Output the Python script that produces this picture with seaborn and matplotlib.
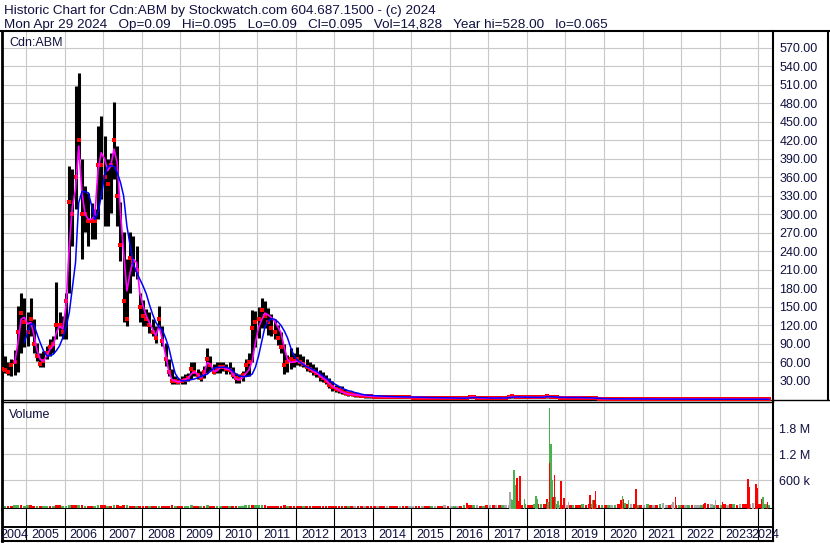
import matplotlib
matplotlib.use("Agg")
import matplotlib.pyplot as plt
import matplotlib.dates as mdates
from matplotlib.lines import Line2D
from matplotlib.ticker import FormatStrFormatter
import numpy as np
import pandas as pd
import seaborn as sns

nan = np.nan

# ---- monthly price bars, May 2004 .. Apr 2024 ----
price_high = [
    92, 70, 60, 65, 80, 152, 173, 165,
    141, 165, 130, 92, 76, 78, 87, 98, 103, 190, 141, 135,
    173, 379, 373, 508, 529, 390, 346, 335, 319, 308, 444, 460,
    427, 390, 400, 482, 411, 320, 271, 227, 271, 265, 249, 173,
    162, 146, 141, 130, 119, 152, 119, 92, 65, 49, 38, 35,
    38, 41, 43, 60, 60, 49, 46, 54, 84, 70, 57, 60,
    60, 60, 57, 60, 52, 43, 41, 46, 65, 76, 145, 143,
    150, 165, 160, 148, 138, 130, 120, 110, 90, 72, 84, 75,
    85, 73, 70, 65, 60, 57, 52, 48, 44, 40, 34, 30,
    24, 22, 21, 17, 14, 12, 11, 10, 9, 9, 8, 7,
    6.5, 6, 6, 5.5, 5.5, 5, 5, 5, 4.5, 4.5, 4.5, 4,
    4, 4, 4, 3.8, 3.6, 3.5, 3.5, 3.4, 3.2, 3, 3, 3,
    3, 3, 3, 3, 3, 3.5, 5.5, 6, 4, 3.5, 3.5, 3.5,
    3.5, 3.5, 3.5, 3.5, 3.5, 4, 5, 7.5, 6, 5, 5, 5.5,
    5, 5, 4.5, 4.5, 5, 6, 7, 6.5, 5.5, 5, 4.5, 4.5,
    4.5, 4.5, 4.5, 4.5, 4, 4, 4, 3.5, 3.5, 3, 2.5, 2,
    1.3, 1.2, 1.1, 1.1, 1.1, 1.1, 1.1, 1.1, 1, 1, 1, 1,
    0.8, 0.8, 0.8, 0.7, 0.7, 0.7, 0.7, 0.7, 0.7, 0.6, 0.6, 0.55,
    0.55, 0.55, 0.5, 0.5, 0.45, 0.45, 0.45, 0.45, 0.4, 0.4, 0.4, 0.3,
    0.3, 0.3, 0.3, 0.28, 0.28, 0.25, 0.25, 0.25, 0.2, 0.2, 0.15, 0.15,
    0.14, 0.13, 0.12, 0.11,
]
price_low = [
    35, 42, 40, 38, 40, 45, 76, 85,
    87, 103, 76, 62, 52, 52, 65, 70, 76, 98, 103, 98,
    98, 173, 249, 308, 390, 227, 271, 249, 260, 260, 292, 325,
    282, 282, 303, 357, 282, 225, 125, 119, 173, 200, 195, 125,
    119, 119, 108, 103, 92, 114, 87, 54, 38, 25, 25, 25,
    25, 25, 30, 33, 38, 33, 30, 35, 43, 46, 41, 43,
    43, 46, 41, 41, 35, 27, 27, 30, 38, 38, 60, 85,
    100, 115, 115, 105, 103, 98, 88, 75, 41, 44, 50, 52,
    55, 54, 52, 46, 44, 40, 36, 30, 28, 25, 18, 14,
    12, 10, 8, 7, 6, 5, 4, 4, 4, 3, 3, 3,
    3, 3, 2.8, 2.8, 2.5, 2.5, 2.5, 2.5, 2.2, 2.2, 2.2, 2,
    2, 2, 2, 1.8, 1.8, 1.6, 1.6, 1.5, 1.5, 1.4, 1.4, 1.4,
    1.4, 1.4, 1.4, 1.4, 1.4, 1.5, 2, 2.5, 2, 1.6, 1.6, 1.6,
    1.6, 1.6, 1.6, 1.6, 1.6, 1.8, 2, 2.5, 2.5, 2.2, 2.2, 2.5,
    2.5, 2.5, 2.2, 2.2, 2.5, 3, 3, 2.8, 2.5, 2.2, 2.2, 2,
    2, 2, 2, 2, 2, 1.8, 1.8, 1.6, 1.4, 1.2, 1, 0.8,
    0.7, 0.6, 0.5, 0.5, 0.5, 0.5, 0.5, 0.5, 0.5, 0.5, 0.5, 0.5,
    0.4, 0.4, 0.4, 0.35, 0.35, 0.35, 0.35, 0.35, 0.35, 0.3, 0.3, 0.3,
    0.3, 0.3, 0.25, 0.25, 0.2, 0.2, 0.2, 0.2, 0.18, 0.18, 0.18, 0.15,
    0.15, 0.15, 0.15, 0.13, 0.13, 0.1, 0.1, 0.1, 0.09, 0.09, 0.08, 0.08,
    0.08, 0.07, 0.065, 0.07,
]
price_close = [
    50, 48, 45, 55, 60, 110, 140, 125,
    110, 130, 90, 70, 58, 62, 75, 85, 90, 120, 120, 110,
    160, 320, 300, 360, 420, 300, 300, 290, 290, 290, 380, 380,
    360, 350, 380, 420, 330, 250, 160, 130, 230, 225, 210, 150,
    135, 130, 120, 110, 100, 130, 95, 65, 45, 30, 30, 28,
    30, 32, 35, 50, 45, 40, 35, 45, 65, 55, 45, 50,
    52, 52, 50, 48, 40, 35, 33, 40, 55, 60, 115, 125,
    130, 145, 135, 125, 115, 110, 100, 85, 55, 60, 65, 62,
    65, 60, 57, 52, 50, 46, 42, 38, 34, 30, 24, 20,
    17, 15, 13, 10, 9, 8, 7, 7, 6, 6, 5, 5,
    4.5, 4.5, 4.2, 4, 4, 3.8, 3.8, 3.6, 3.5, 3.4, 3.3, 3.2,
    3, 3, 3, 2.8, 2.6, 2.5, 2.4, 2.3, 2.2, 2, 2, 2,
    2, 2, 2, 2, 2, 2.5, 4, 3.5, 2.8, 2.2, 2.2, 2.2,
    2.2, 2.2, 2.2, 2.2, 2.2, 2.6, 3.5, 5, 4, 3.5, 3.5, 4,
    3.5, 3.5, 3.2, 3.2, 3.6, 4.5, 5, 4.2, 3.6, 3.2, 3, 3,
    3, 3, 3, 3, 2.8, 2.6, 2.6, 2.3, 2, 1.7, 1.4, 1.1,
    1, 0.9, 0.8, 0.8, 0.8, 0.8, 0.8, 0.8, 0.7, 0.7, 0.7, 0.7,
    0.6, 0.6, 0.6, 0.5, 0.5, 0.5, 0.5, 0.5, 0.5, 0.45, 0.45, 0.4,
    0.4, 0.4, 0.35, 0.35, 0.3, 0.3, 0.3, 0.3, 0.25, 0.25, 0.25, 0.2,
    0.2, 0.2, 0.2, 0.18, 0.18, 0.15, 0.15, 0.15, 0.12, 0.12, 0.1, 0.1,
    0.1, 0.1, 0.09, 0.095,
]
# magenta (short) and blue (long) moving averages as drawn on the chart
ma_fast = [
    nan, nan, nan, nan, 59, 90, 130, 133,
    122, 125, 106, 80, 65, 62, 70, 81, 87, 108, 119, 114,
    152, 249, 311, 341, 411, 335, 300, 292, 292, 298, 373, 400,
    390, 371, 379, 406, 384, 303, 238, 176, 206, 227, 222, 173,
    152, 135, 125, 114, 103, 119, 98, 73, 46, 32, 30, 28,
    30, 32, 34, 41, 45, 41, 35, 41, 60, 57, 46, 46,
    52, 52, 49, 49, 41, 33, 32, 35, 42, 48, 62, 92,
    117, 130, 140, 137, 133, 127, 118, 108, 84, 65, 60, 61,
    62, 60, 58, 53, 50, 46, 43, 39, 35, 31, 26, 21,
    18, 15, 12, 10, 8.5, 8, 7.5, 7, 6.5, 6, 5.5, 5,
    4.8, 4.6, 4.4, 4.2, 4.1, 4, 3.9, 3.8, 3.6, 3.5, 3.4, 3.3,
    3.2, 3.1, 3, 2.9, 2.7, 2.6, 2.5, 2.4, 2.3, 2.1, 2, 2,
    2, 2, 2, 2, 2, 2.3, 3.4, 3.6, 3, 2.4, 2.2, 2.2,
    2.2, 2.2, 2.2, 2.2, 2.2, 2.4, 3.2, 4.5, 4.2, 3.7, 3.5, 3.8,
    3.6, 3.5, 3.3, 3.2, 3.5, 4.2, 4.8, 4.4, 3.8, 3.3, 3.1, 3,
    3, 3, 3, 3, 2.9, 2.7, 2.6, 2.4, 2.1, 1.8, 1.5, 1.2,
    1, 0.9, 0.8, 0.8, 0.8, 0.8, 0.8, 0.8, 0.7, 0.7, 0.7, 0.7,
    0.6, 0.6, 0.6, 0.5, 0.5, 0.5, 0.5, 0.5, 0.5, 0.45, 0.45, 0.4,
    0.4, 0.4, 0.35, 0.35, 0.3, 0.3, 0.3, 0.3, 0.25, 0.25, 0.25, 0.2,
    0.2, 0.2, 0.2, 0.18, 0.18, 0.15, 0.15, 0.15, 0.12, 0.12, 0.1, 0.1,
    0.1, 0.1, 0.09, 0.09,
]
ma_slow = [
    nan, nan, nan, nan, nan, nan, nan, 92,
    108, 122, 122, 106, 92, 79, 71, 71, 73, 79, 87, 100,
    117, 141, 179, 222, 319, 337, 337, 335, 314, 292, 303, 330,
    363, 378, 379, 378, 368, 352, 330, 281, 249, 219, 206, 195,
    184, 171, 154, 138, 125, 117, 113, 100, 84, 62, 42, 34,
    30, 30, 31, 32, 33, 35, 37, 39, 41, 46, 50, 52,
    52, 52, 52, 50, 46, 41, 38, 37, 37, 38, 41, 52,
    71, 95, 117, 127, 131, 130, 126, 120, 111, 100, 84, 71,
    64, 60, 56, 53, 51, 48, 46, 42, 38, 34, 31, 27,
    24, 21, 18, 16, 14, 13, 11, 10, 8.5, 7.4, 6.8, 6.3,
    6, 5.7, 5.4, 5.1, 4.9, 4.7, 4.5, 4.3, 4.2, 4.1, 4, 3.9,
    3.8, 3.7, 3.6, 3.4, 3.2, 3, 2.9, 2.8, 2.6, 2.5, 2.4, 2.3,
    2.2, 2.1, 2.1, 2, 2, 2.1, 2.5, 3, 3, 2.8, 2.5, 2.3,
    2.2, 2.2, 2.2, 2.2, 2.2, 2.3, 2.7, 3.5, 3.9, 3.9, 3.7, 3.7,
    3.7, 3.6, 3.4, 3.3, 3.4, 3.8, 4.3, 4.4, 4.1, 3.7, 3.3, 3.1,
    3, 3, 3, 3, 3, 2.8, 2.7, 2.6, 2.3, 2, 1.7, 1.4,
    1.2, 1, 0.9, 0.8, 0.8, 0.8, 0.8, 0.8, 0.8, 0.7, 0.7, 0.7,
    0.65, 0.6, 0.6, 0.55, 0.5, 0.5, 0.5, 0.5, 0.5, 0.48, 0.45, 0.42,
    0.4, 0.4, 0.38, 0.35, 0.33, 0.3, 0.3, 0.3, 0.28, 0.26, 0.25, 0.22,
    0.2, 0.2, 0.2, 0.19, 0.18, 0.17, 0.16, 0.15, 0.14, 0.12, 0.11, 0.1,
    0.1, 0.1, 0.1, 0.09,
]

# ---- volume (thousands): monthly background level + the taller single bars ----
vol_base = [
    18, 12, 10, 12, 22, 30, 25, 15,
    20, 25, 15, 10, 10, 12, 15, 12, 15, 30, 20, 15,
    15, 35, 30, 25, 30, 20, 15, 15, 12, 12, 25, 20,
    20, 15, 15, 20, 20, 15, 25, 20, 15, 12, 12, 15,
    12, 10, 10, 10, 10, 15, 10, 15, 15, 20, 15, 12,
    10, 10, 12, 20, 15, 12, 10, 12, 25, 15, 12, 12,
    12, 10, 10, 12, 10, 10, 8, 10, 20, 25, 35, 25,
    20, 25, 20, 15, 15, 12, 12, 15, 25, 15, 15, 12,
    12, 10, 10, 12, 10, 10, 10, 12, 10, 10, 15, 12,
    12, 10, 10, 12, 8, 8, 8, 10, 8, 8, 8, 10,
    8, 8, 10, 8, 8, 8, 8, 8, 10, 8, 8, 8,
    8, 8, 10, 8, 8, 10, 8, 8, 10, 12, 25, 10,
    10, 10, 12, 12, 25, 40, 30, 25, 20, 15, 18, 20,
    20, 20, 25, 30, 25, 30, 35, 60, 50, 45, 35, 45,
    30, 30, 45, 55, 45, 60, 75, 60, 50, 45, 40, 35,
    35, 35, 30, 35, 40, 45, 35, 45, 60, 45, 35, 30,
    30, 30, 25, 40, 55, 65, 70, 55, 45, 45, 40, 35,
    40, 45, 40, 35, 40, 45, 45, 35, 40, 45, 35, 30,
    30, 35, 30, 30, 30, 35, 40, 50, 50, 45, 40, 35,
    40, 45, 40, 50, 45, 40, 45, 50, 60, 50, 50, 60,
    50, 60, 55, 40,
]
# r = down, g = up, n = unchanged
vol_base_dir = ("rgrrggrg" "grrgrggrgrrg" "ggrrgrgrrggr" "rgrgrrrgrrgr"
                "rrgrrgrrrrgr" "rgggrrgrgrrg" "grrgrrggggrg" "ggrrrrrrrgrr"
                "rrgrrrrrrrrr" "rrrrgrnrrnrr" "rnrrnrrrnrrn" "nrrnrrgnrrnr"
                "ngnrgrrgnrgr" "nrnrgnngrgrg" "rrgrgrrgrgnr" "nrgrrgrrgnrg"
                "rgngrggrnrgr" "ngrnrgnnrnrg" "rngrnngrrngr" "grnrgrnrrngr"
                "rngg")

spike_dates = [
    "2016-06-09", "2017-07-24", "2017-08-02", "2017-08-15", "2017-09-03",
    "2017-09-16", "2017-09-25", "2017-10-02", "2017-10-14", "2017-10-30",
    "2017-12-10", "2018-03-31", "2018-04-12", "2018-07-09", "2018-07-22",
    "2018-08-04", "2018-08-10", "2018-08-16", "2018-08-23", "2018-08-29",
    "2018-09-05", "2018-09-20", "2018-09-30", "2018-10-25", "2018-11-19",
    "2018-12-18", "2019-01-31", "2019-08-21", "2019-09-16", "2019-09-28",
    "2019-10-14", "2020-06-11", "2020-06-26", "2020-07-06", "2020-08-22",
    "2020-10-31", "2021-07-17", "2021-10-20", "2021-11-10", "2022-08-15",
    "2022-11-24", "2023-01-30", "2023-09-26", "2023-10-09", "2023-11-16",
    "2023-12-11", "2023-12-24", "2024-02-03", "2024-02-19", "2024-03-31",
]
spike_vol = [
    70, 338, 160, 146, 838,
    492, 315, 646, 123, 700,
    169, 238, 177, 177, 92,
    2268, 992, 1438, 438, 607,
    223, 723, 223, 123, 584,
    185, 100, 261, 146, 146,
    354, 146, 238, 169, 146,
    400, 69, 100, 215, 69,
    146, 100, 630, 453, 69,
    515, 415, 169, 223, 100,
]
spike_dir = "rnngggrrrrggg" "rggrgrgrrgg" "rrnrgrr" "rgrgr" "nnrrnrrrnrrrg"

price_ticks = list(range(30, 571, 30))
vol_ticks = [600, 1200, 1800]
vol_tick_labels = ["600 k", "1.2 M", "1.8 M"]
years = list(range(2004, 2025))

header_1 = "Historic Chart for Cdn:ABM by Stockwatch.com 604.687.1500 - (c) 2024"
header_2 = ("Mon Apr 29 2024   Op=0.09   Hi=0.095   Lo=0.09   Cl=0.095   "
            "Vol=14,828   Year hi=528.00   lo=0.065")

# ------------------------------------------------------------------------
sns.set_style("white")
plt.rcParams["font.family"] = ["Liberation Sans", "DejaVu Sans"]
plt.rcParams["font.size"] = 9

TXT = "#101040"
GRID = "#c8c8c8"
COLS = {"r": "#ff0000", "g": "#4caf50", "n": "#a8a8a8"}

months = mdates.date2num(pd.date_range("2004-05-01", "2024-04-01", freq="MS")
                         + pd.Timedelta(days=14))
spikes_x = mdates.date2num(pd.to_datetime(spike_dates))
year_starts = mdates.date2num(pd.to_datetime([f"{y}-01-01" for y in years[1:]]))
x_min = mdates.date2num(pd.Timestamp("2004-05-18"))
x_max = mdates.date2num(pd.Timestamp("2024-05-22"))

W, H = 830, 543
fig = plt.figure(figsize=(W / 100, H / 100), dpi=100)


def box(x0, y0, x1, y1):
    return [x0 / W, 1 - y1 / H, (x1 - x0) / W, (y1 - y0) / H]


ax_p = fig.add_axes(box(2, 31, 773, 400))
ax_v = fig.add_axes(box(2, 402, 773, 508.5))
ax_d = fig.add_axes(box(2, 508.5, 773, 541))

# ---- price panel ----
ax_p.vlines(months, price_low, price_high, color="black", lw=2.2, zorder=2)
ax_p.plot(months, price_close, ls="none", marker="s", ms=2.2, mew=0,
          color="red", zorder=3)
sns.lineplot(x=months, y=ma_fast, ax=ax_p, color="#ff00ff", lw=1.2, zorder=4)
sns.lineplot(x=months, y=ma_slow, ax=ax_p, color="#0000ff", lw=1.1, zorder=5)
ax_p.set_xlim(x_min, x_max)
ax_p.set_ylim(-1, 597.5)
ax_p.set_xticks(year_starts)
ax_p.set_yticks(price_ticks)
ax_p.yaxis.tick_right()
ax_p.yaxis.set_major_formatter(FormatStrFormatter("%.2f"))
ax_p.tick_params(axis="y", length=0, pad=4.5, labelsize=9, labelcolor=TXT)
ax_p.tick_params(axis="x", length=0, labelbottom=False)
ax_p.grid(True, color=GRID, lw=0.8)
ax_p.set_axisbelow(True)
ax_p.set_xlabel("")
ax_p.set_ylabel("")
ax_p.text(7 / 771, 1 - 15 / 369, "Cdn:ABM", transform=ax_p.transAxes,
          fontsize=9, color=TXT, va="baseline")

# ---- volume panel ----
v_floor = -51
ax_v.bar(months, [v - v_floor for v in vol_base], bottom=v_floor, width=26,
         color=[COLS[c] for c in vol_base_dir], lw=0, zorder=2)
ax_v.bar(spikes_x, [v - v_floor for v in spike_vol], bottom=v_floor, width=16,
         color=[COLS[c] for c in spike_dir], lw=0, zorder=3)
ax_v.set_xlim(x_min, x_max)
ax_v.set_ylim(v_floor, 2407)
ax_v.set_xticks(year_starts)
ax_v.set_yticks(vol_ticks)
ax_v.set_yticklabels(vol_tick_labels)
ax_v.yaxis.tick_right()
ax_v.tick_params(axis="y", length=0, pad=4.5, labelsize=9, labelcolor=TXT)
ax_v.tick_params(axis="x", length=0, labelbottom=False)
ax_v.grid(True, color=GRID, lw=0.8)
ax_v.set_axisbelow(True)
ax_v.text(7 / 771, 1 - 15.5 / 106.5, "Volume", transform=ax_v.transAxes,
          fontsize=9, color=TXT, va="baseline")

# ---- date strip ----
ax_d.set_xlim(x_min, x_max)
ax_d.set_ylim(0, 1)
ax_d.set_xticks([])
ax_d.set_yticks([])
for xb in year_starts:
    ax_d.axvline(xb, color="black", lw=0.8)
ax_d.axhline(14 / 32.5, color="black", lw=1.4)
edges = [x_min] + list(year_starts) + [x_max]
for i, yr in enumerate(years):
    ax_d.text((edges[i] + edges[i + 1]) / 2, 2.7 / 32.5, str(yr),
              ha="center", va="baseline", fontsize=9, color=TXT, clip_on=False)

for ax in (ax_p, ax_v, ax_d):
    for side in ("left", "right", "top", "bottom"):
        ax.spines[side].set_visible(True)
        ax.spines[side].set_color("black")
    ax.spines["left"].set_linewidth(2)
    ax.spines["right"].set_linewidth(1.5)
ax_p.spines["top"].set_visible(False)
ax_p.spines["bottom"].set_linewidth(1)
ax_v.spines["top"].set_linewidth(1)
ax_v.spines["bottom"].set_linewidth(1.5)
ax_d.spines["top"].set_visible(False)
ax_d.spines["bottom"].set_linewidth(1.5)

# header and outer frame lines
fig.add_artist(Line2D([0, 1], [1 - 30.5 / H] * 2, color="black", lw=1.5))
fig.add_artist(Line2D([773 / W, 1], [1 - 400 / H] * 2, color="black", lw=1))
fig.add_artist(Line2D([828 / W] * 2, [1 - 30.5 / H, 1 - 400 / H], color="black", lw=1.5))
fig.text(4 / W, 1 - 14 / H, header_1, fontsize=9.7, color=TXT, va="baseline")
fig.text(4 / W, 1 - 28 / H, header_2, fontsize=9.7, color=TXT, va="baseline")

fig.savefig("out.png", dpi=100)
